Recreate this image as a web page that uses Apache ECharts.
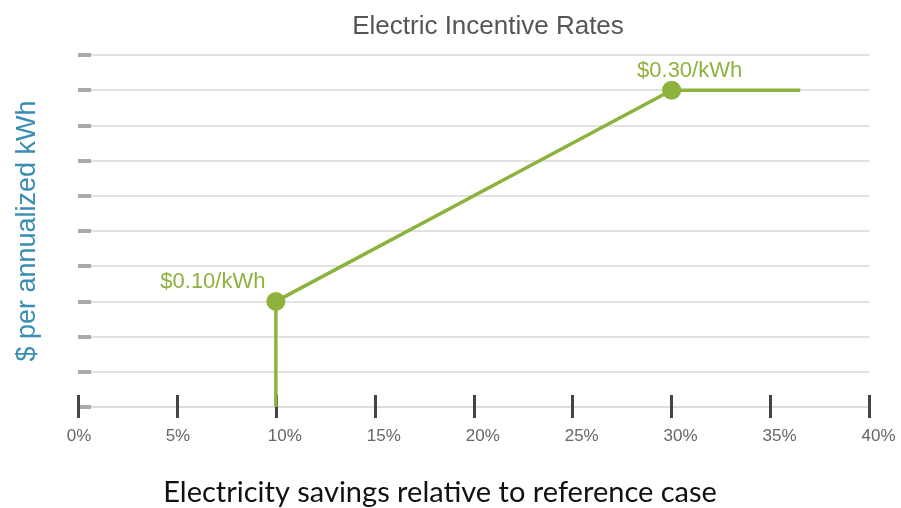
<!DOCTYPE html>
<html>
<head>
<meta charset="utf-8">
<script src="https://cdn.jsdelivr.net/npm/echarts@6/dist/echarts.min.js"></script>
<style>
html,body{margin:0;padding:0;background:#fff;}
#chart{width:901px;height:508px;}
</style>
</head>
<body>
<div id="chart"></div>
<script>
// Data
var savingsPct = [10, 10, 30, 36.5];          // x: electricity savings (%)
var ratePerKWh = [0, 0.10, 0.30, 0.30];       // y: $ per annualized kWh
var markedPoints = [false, true, true, false];
var pointLabels = ['', '$0.10/kWh', '$0.30/kWh', ''];
var labelOffsets = [[0,0], [-63, 6], [18, 6], [0,0]];

var chart = echarts.init(document.getElementById('chart'));
var green = '#8db33d';

var seriesData = savingsPct.map(function (x, i) {
  var item = { value: [x, ratePerKWh[i]] };
  if (!markedPoints[i]) {
    item.symbol = 'none';
  } else {
    item.label = {
      show: true,
      formatter: pointLabels[i],
      position: 'top',
      offset: labelOffsets[i],
      color: green,
      fontSize: 22,
      fontFamily: 'Liberation Sans, Arial, sans-serif'
    };
  }
  return item;
});

var tickFont = { color: '#666', fontSize: 17, fontFamily: 'Liberation Sans, Arial, sans-serif' };

var option = {
  backgroundColor: '#ffffff',
  animation: false,
  title: [{
    text: 'Electric Incentive Rates',
    left: 483, top: 9,
    textAlign: 'center',
    textStyle: { color: '#555', fontSize: 26, fontWeight: 'normal', fontFamily: 'Liberation Sans, Arial, sans-serif' }
  }, {
    text: 'Electricity savings relative to reference case',
    left: 435, top: 473,
    textAlign: 'center',
    textStyle: { color: '#111', fontSize: 29, fontWeight: 'normal', fontFamily: 'Lato, Carlito, sans-serif' }
  }],
  grid: { left: 78, right: 31.5, top: 55, bottom: 101 },
  xAxis: [{
    type: 'value',
    min: 0, max: 40, interval: 5,
    axisLine: { show: true, lineStyle: { color: '#dcdcdc', width: 2 } },
    axisTick: { show: true, length: 11, lineStyle: { color: '#444', width: 3 } },
    axisLabel: {
      margin: 21,
      formatter: function (v) { return v >= 10 ? '{b|' + v + '%}' : '{a|' + v + '%}'; },
      rich: {
        a: Object.assign({ padding: [0, 0, 0, 2] }, tickFont),
        b: Object.assign({ padding: [0, 0, 0, 18] }, tickFont)
      }
    },
    splitLine: { show: false }
  }, {
    type: 'value',
    position: 'bottom',
    min: 0, max: 40, interval: 5,
    axisLine: { show: false },
    axisTick: { show: true, inside: true, length: 12, lineStyle: { color: '#444', width: 3 } },
    axisLabel: { show: false },
    splitLine: { show: false }
  }],
  yAxis: {
    type: 'value',
    min: 0, max: 1/3, interval: 1/30,
    name: '$ per annualized kWh',
    nameLocation: 'middle',
    nameGap: 37,
    nameTextStyle: { color: '#3a8db3', fontSize: 27, fontFamily: 'Liberation Sans, Arial, sans-serif' },
    axisLine: { show: false },
    axisTick: { show: true, inside: true, length: 13, lineStyle: { color: '#aaa', width: 4 } },
    axisLabel: { show: false },
    splitLine: { show: true, lineStyle: { color: '#e2e2e2', width: 2 } }
  },
  series: [{
    type: 'line',
    xAxisIndex: 0,
    data: seriesData,
    symbol: 'circle',
    symbolSize: 19,
    showAllSymbol: true,
    lineStyle: { color: green, width: 3.5 },
    itemStyle: { color: green },
    z: 3
  }]
};
chart.setOption(option);
</script>
</body>
</html>
